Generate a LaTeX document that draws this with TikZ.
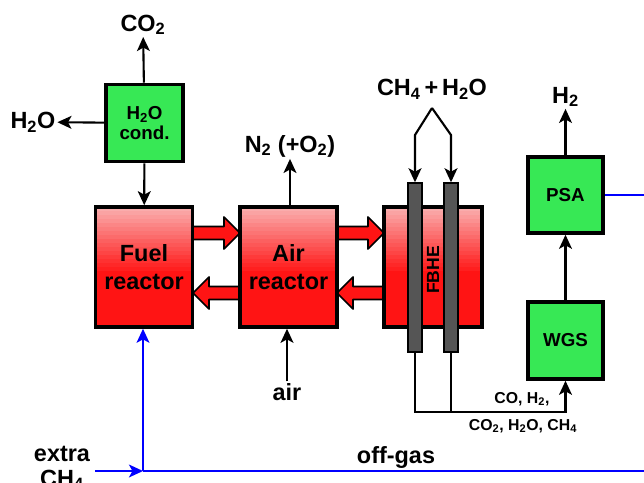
\documentclass[tikz,border=0pt]{standalone}
\usepackage{fontspec}
\setmainfont{Liberation Sans}
\usetikzlibrary{arrows.meta}
\definecolor{boxgreen}{RGB}{55,232,85}
\definecolor{hotred}{RGB}{255,20,20}
\definecolor{palered}{RGB}{250,172,172}
\definecolor{tubegray}{RGB}{85,85,85}
\newcommand{\heatarrow}[3]{%
  \pgfmathsetmacro{\hx}{#2>#1 ? #2-16 : #2+16}%
  \draw[heat] (#1,#3-6.5) -- (\hx,#3-6.5) -- (\hx,#3-16) -- (#2,#3)
    -- (\hx,#3+16) -- (\hx,#3+6.5) -- (#1,#3+6.5) -- cycle;}
\begin{document}
\begin{tikzpicture}[x=0.03cm, y=-0.03cm, >={Stealth[length=12pt,width=11pt,inset=3pt]},
      every node/.append style={font=\bfseries, inner sep=1.5pt},
      flow/.style={->, line width=1.8pt},
      offgas/.style={draw=blue, line width=1.6pt}]
    \tikzstyle{reactor} = [draw, rectangle, line width=3pt, minimum width=2.91cm, minimum height=3.6cm]
    \tikzstyle{rname} = [align=center, font=\bfseries\fontsize{20}{24}\selectfont]
    \tikzstyle{unit} = [draw, rectangle, line width=3pt, fill=boxgreen, minimum width=2.25cm,
      minimum height=2.28cm, align=center, font=\bfseries\fontsize{16}{17}\selectfont]
    \tikzstyle{tube} = [draw, line width=1.2pt, fill=tubegray, minimum width=0.42cm, minimum height=5.07cm, inner sep=0pt]
    \tikzstyle{stream} = [align=center, font=\bfseries\fontsize{20}{21}\selectfont]
    \tikzstyle{small} = [font=\bfseries\fontsize{13.5}{15}\selectfont]
    \tikzstyle{heat} = [draw, line width=1.5pt, fill=hotred, line join=round]
    \useasboundingbox (0,0) rectangle (644,483);
    \foreach \a/\b/\y in {190/240/233, 243/193/293, 334/384/233, 387/337/293}
      \heatarrow{\a}{\b}{\y};
    \foreach \xa/\xb in {95.5/192.5, 240/337, 384/482} {
      \foreach \k [evaluate=\k as \p using int(\k*100/16)] in {0,...,15}
        \fill[hotred!\p!palered] (\xa,207+\k*4) rectangle (\xb,211.6+\k*4);
      \fill[hotred] (\xa,271) rectangle (\xb,327);
    }
    \node[reactor] (fuel) at (144,267) {};
    \node[reactor] (air) at (288.5,267) {};
    \node[reactor, minimum width=2.94cm] (fbhe) at (433,267) {};
    \node[rname] (fuelname) at (fuel) {Fuel\\reactor};
    \node[rname] (airname) at (air) {Air\\reactor};
    \node[rotate=90, font=\bfseries\fontsize{15}{17}\selectfont] (fbhename) at (433,270) {FBHE};
    \node[tube] (t1) at (415,267.5) {};
    \node[tube] (t2) at (451,267.5) {};
    \node[unit, minimum width=2.31cm, minimum height=2.31cm] (cond) at (144.5,123) {H\textsubscript{2}O\\cond.};
    \node[unit] (psa) at (565.5,195) {PSA};
    \node[unit, minimum height=2.31cm] (wgs) at (565.5,340.5) {WGS};
    \node[stream] (co2) at (143,25) {CO\textsubscript{2}};
    \node[stream] (h2o) at (33,122) {H\textsubscript{2}O};
    \node[stream] (n2) at (290,146) {N\textsubscript{2} (+O\textsubscript{2})};
    \node[stream] (feed) at (432,89) {CH\textsubscript{4}\,+\,H\textsubscript{2}O};
    \node[stream] (airin) at (287,392) {air};
    \node[stream] (h2) at (565.5,97) {H\textsubscript{2}};
    \node[stream] (offgas) at (396,457) {off-gas};
    \node[stream] (extra) at (62,468) {extra\\CH\textsubscript{4}};
    \node[small] (syngas) at (522,399) {CO, H\textsubscript{2},};
    \node[small] (rest) at (523,426) {CO\textsubscript{2}, H\textsubscript{2}O, CH\textsubscript{4}};
    \coordinate (apex) at (432,108);
    \coordinate (k1) at (415,135);
    \coordinate (k2) at (451,135);
    \coordinate (j) at (565.5,412);
    \coordinate (in) at (95,471);
    \coordinate (tee) at (143,471);
    \coordinate (east) at (644,471);
    \coordinate (psaout) at (644,195);
    \draw[flow] (cond) -- (co2);
    \draw[flow] (cond) -- (h2o);
    \draw[flow] (cond) -- (fuel);
    \draw[flow] (air.north -| n2) -- (n2);
    \draw[flow] (airin) -- (airin |- air.south);
    \draw[flow] (apex) -- (k1) -- (t1.north);
    \draw[flow] (apex) -- (k2) -- (t2.north);
    \draw[flow] (t1.south) |- (j) -- (wgs.south);
    \draw[line width=1.8pt] (t2.south) -- (t2.south |- j);
    \draw[flow] (wgs) -- (psa);
    \draw[flow] (psa) -- (h2);
    \draw[offgas, ->] (in) -- (tee);
    \draw[offgas] (tee) -- (east);
    \draw[offgas, ->] (tee) -- (tee |- fuel.south);
    \draw[offgas] (psa.east) -- (psaout);
\end{tikzpicture}
\end{document}
